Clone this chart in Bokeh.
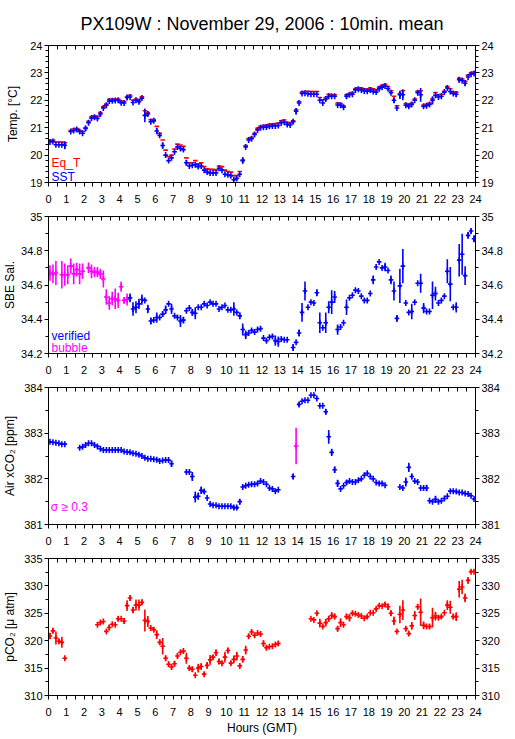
import numpy as np
from bokeh.plotting import figure
from bokeh.models import Range1d, LinearAxis, FixedTicker, Label, ColumnDataSource
from bokeh.layouts import column
from bokeh.embed import file_html
from bokeh.resources import INLINE

N = None
TITLE = "PX109W : November 29, 2006 : 10min. mean"
# centres of the 10-minute averaging bins (minutes of day)
BIN_CENTRE_MIN = list(range(5, 1440, 10))
HOUR_TICKS = list(range(0, 25))
HOUR_MINOR = [h + 0.5 for h in range(24)]

TEMP_TICKS = [19, 20, 21, 22, 23, 24]
TEMP_MINOR = [19.2, 19.4, 19.6, 19.8, 20.2, 20.4, 20.6, 20.8, 21.2, 21.4, 21.6, 21.8,
              22.2, 22.4, 22.6, 22.8, 23.2, 23.4, 23.6, 23.8]
SAL_TICKS = [34.2, 34.4, 34.6, 34.8, 35.0]
SAL_LABELS = {34.2: "34.2", 34.4: "34.4", 34.6: "34.6", 34.8: "34.8", 35.0: "35"}
SAL_MINOR = [34.3, 34.5, 34.7, 34.9]
XCO2_TICKS = [381, 382, 383, 384]
XCO2_MINOR = [381.5, 382.5, 383.5]
PCO2_TICKS = [310, 315, 320, 325, 330, 335]
PCO2_MINOR = [312.5, 317.5, 322.5, 327.5, 332.5]

# ---- Temperature (SST blue, Eq_T red) ----
SST = [
    20.48, 20.50, 20.38, 20.38, 20.38, 20.36, N, 20.86, 20.90, 20.93, 20.86, 20.80,
    20.97, 21.18, 21.35, 21.38, 21.34, 21.50, 21.72, 21.82, 21.97, 21.98, 21.99, 22.00,
    21.91, 21.90, 22.10, 22.12, 21.92, 22.00, 21.95, 22.08, 21.45, 21.50, 21.22, 21.25,
    20.88, 20.72, 20.35, 20.00, 19.80, 19.90, 20.12, 20.30, 20.24, 20.20, 19.72, 19.60,
    19.63, 19.65, 19.58, 19.60, 19.45, 19.38, 19.35, 19.35, 19.35, 19.52, 19.45, 19.30,
    19.28, 19.25, 19.10, 19.15, 19.30, 19.80, 20.30, 20.55, 20.60, 20.75, 20.92, 21.00,
    21.02, 21.03, 21.05, 21.06, 21.06, 21.08, 21.18, 21.20, 21.12, 21.10, 21.22, 21.60,
    21.90, 22.25, 22.26, 22.24, 22.22, 22.22, 22.22, 22.00, 21.90, 22.05, 22.15, 22.15,
    22.15, 21.83, 21.82, 21.75, 22.15, 22.20, 22.22, 22.38, 22.40, 22.38, 22.34, 22.33,
    22.38, 22.32, 22.30, 22.42, 22.48, 22.52, 22.42, 22.28, 22.00, 21.72, 22.20, 22.20,
    21.82, 21.78, 21.85, 22.00, 22.28, 22.20, 21.78, 21.80, 21.85, 22.00, 22.18, 22.12,
    22.15, 22.30, 22.45, 22.32, 22.25, 22.22, 22.75, 22.72, 22.62, 22.85, 22.95, 22.98,
]
EQT = [
    20.53, 20.55, 20.48, 20.48, 20.48, 20.45, N, 20.90, 20.95, 20.97, 20.90, 20.86,
    21.00, 21.23, 21.40, 21.43, 21.42, 21.55, 21.76, 21.86, 22.04, 22.04, 22.04, 22.05,
    21.97, 21.95, 22.12, 22.18, 22.00, 22.05, 22.02, 22.13, 21.62, 21.55, 21.30, 21.30,
    21.05, 20.80, 20.55, 20.18, 19.95, 20.00, 20.22, 20.40, 20.37, 20.32, 19.90, 19.72,
    19.72, 19.80, 19.68, 19.72, 19.58, 19.50, 19.48, 19.48, 19.46, 19.60, 19.58, 19.45,
    19.40, 19.38, 19.25, 19.25, 19.40, 19.82, 20.35, 20.60, 20.65, 20.80, 20.98, 21.05,
    21.08, 21.10, 21.12, 21.13, 21.15, 21.17, 21.25, 21.28, 21.20, 21.17, 21.25, 21.65,
    21.95, 22.30, 22.32, 22.33, 22.32, 22.32, 22.32, 22.10, 22.02, 22.10, 22.22, 22.20,
    22.20, 21.90, 21.88, 21.80, 22.20, 22.25, 22.28, 22.42, 22.46, 22.45, 22.42, 22.40,
    22.45, 22.42, 22.38, 22.48, 22.55, 22.58, 22.50, 22.35, 22.15, 21.80, 22.25, 22.35,
    21.88, 21.85, 21.90, 22.05, 22.33, 22.35, 21.83, 21.85, 21.90, 22.05, 22.28, 22.20,
    22.22, 22.33, 22.50, 22.42, 22.30, 22.30, 22.80, 22.78, 22.70, 22.92, 23.00, 23.03,
]
SST_ERR = {5: .15, 12: .1, 17: .08, 26: .08, 30: .07, 32: .25, 33: .06, 36: .12, 38: .12,
           46: .1, 65: .12, 82: .08, 83: .12, 93: .08, 100: .08, 116: .1, 118: .15, 119: .2,
           125: .25, 129: .15, 137: .1, 138: .1, 140: .1}

# ---- SBE salinity ----
SAL = [
    34.670, 34.665, 34.670, N, 34.660, 34.660, 34.660, 34.710, 34.665, 34.690, 34.665, 34.680,
    N, 34.700, 34.680, 34.675, 34.675, 34.665, 34.635, 34.530, 34.495, 34.520, 34.520, 34.510,
    34.590, 34.510, 34.515, 34.525, 34.460, 34.470, 34.490, 34.515, 34.510, 34.460, 34.390, 34.395,
    34.410, 34.410, 34.430, 34.455, 34.490, 34.460, 34.420, 34.410, 34.390, 34.395, 34.450, 34.465,
    34.440, 34.435, 34.470, 34.470, 34.490, 34.480, 34.500, 34.490, 34.490, 34.460, 34.470, 34.480,
    34.455, 34.455, 34.460, 34.440, 34.420, 34.340, 34.310, 34.320, 34.335, 34.325, 34.340, 34.345,
    34.290, 34.275, 34.295, 34.300, 34.275, 34.270, 34.285, 34.280, 34.280, N, 34.235, 34.265,
    34.320, 34.440, 34.565, 34.470, 34.500, 34.495, 34.555, 34.380, 34.350, 34.380, 34.470, 34.500,
    34.530, 34.340, 34.355, 34.380, 34.470, 34.525, 34.540, 34.570, 34.565, 34.535, 34.510, 34.510,
    34.550, 34.630, 34.705, 34.735, 34.700, 34.705, 34.685, 34.630, 34.565, 34.405, 34.595, 34.710,
    34.495, 34.440, 34.445, 34.500, 34.610, 34.610, 34.465, 34.445, 34.445, 34.540, 34.550, 34.495,
    34.510, 34.535, 34.680, 34.605, 34.470, 34.470, 34.745, 34.780, 34.655, 34.890, 34.915, 34.870,
]
SAL_ERR = {0: .045, 1: .055, 2: .07, 4: .08, 5: .065, 6: .055, 7: .045, 8: .06, 9: .04, 10: .06,
           11: .045, 13: .032, 14: .04, 15: .03, 16: .03, 17: .03, 18: .05, 19: .045, 20: .04,
           21: .04, 22: .06, 23: .045, 24: .03, 25: .02, 26: .035, 27: .025, 28: .04, 29: .035,
           30: .03, 31: .03, 33: .025, 34: .02, 36: .03, 38: .015, 39: .025, 41: .03, 44: .035,
           45: .02, 48: .02, 49: .035, 62: .04, 64: .02, 65: .035, 66: .025, 76: .03, 77: .03,
           82: .02, 84: .02, 85: .055, 86: .055, 90: .02, 91: .06, 93: .06, 94: .035, 95: .07,
           96: .035, 97: .03, 100: .045, 109: .025, 113: .025, 115: .025, 116: .055, 117: .02,
           118: .1, 119: .1, 122: .045, 125: .055, 126: .03, 129: .08, 130: .04, 134: .07,
           135: .1, 137: .03, 138: .095, 139: .12, 140: .055, 141: .02, 142: .015, 143: .02}
SAL_BUBBLE_BINS = list(range(0, 27))

# ---- Air xCO2 ----
XCO2 = [
    382.81, 382.80, 382.79, 382.78, 382.76, 382.76, N, N, N, N, 382.68, 382.70,
    382.74, 382.78, 382.78, 382.74, 382.71, 382.66, 382.63, 382.63, 382.63, 382.63, 382.63, 382.63,
    382.63, 382.60, 382.59, 382.58, 382.56, 382.55, 382.53, 382.50, 382.46, 382.44, 382.44, 382.43,
    382.42, 382.39, 382.40, 382.41, 382.41, 382.33, N, N, N, N, 382.15, 382.15,
    382.05, 381.60, 381.62, 381.75, 381.72, 381.58, 381.45, 381.42, 381.42, 381.40, 381.40, 381.40,
    381.40, 381.40, 381.37, 381.37, 381.50, 381.82, 381.85, 381.87, 381.88, 381.88, 381.90, 381.95,
    381.93, 381.88, 381.80, 381.78, 381.73, 381.76, N, N, N, N, 382.05, 382.72,
    383.63, 383.70, 383.72, 383.72, 383.83, 383.83, 383.76, 383.60, 383.60, 383.47, 382.92, 382.58,
    382.20, 381.90, 381.78, 381.85, 381.92, 381.95, 381.93, 381.93, 381.97, 382.00, 382.08, 382.12,
    382.05, 382.00, 381.92, 381.90, 381.90, 381.86, N, N, N, N, 381.82, 381.80,
    381.93, 382.25, 382.05, 381.95, 381.93, 381.80, 381.80, 381.80, 381.52, 381.50, 381.55, 381.50,
    381.52, 381.57, 381.62, 381.73, 381.73, 381.72, 381.70, 381.70, 381.68, 381.67, 381.63, 381.56,
]
XCO2_ERR = {41: .07, 48: .1, 49: .12, 50: .08, 51: .08, 52: .04, 62: .04, 63: .04, 64: .06,
            68: .03, 82: .06, 83: .4, 84: .05, 93: .06, 94: .15, 95: .08, 96: .07, 97: .08,
            100: .05, 120: .1, 121: .1, 122: .06, 127: .07, 130: .08}
XCO2_HIGH_SIGMA_BINS = [83]

# ---- pCO2 ----
PCO2 = [
    320.87, 321.80, 320.50, 319.90, 319.70, 316.80, N, N, N, N, N, N,
    N, N, N, N, 322.90, 323.30, 323.50, 321.70, 322.40, 323.00, 322.90, 324.00,
    324.00, 323.60, 326.40, 327.80, 325.60, 326.50, 326.50, 327.00, 323.70, 323.50, 322.30, 322.00,
    321.10, 319.70, 319.00, 316.80, 315.70, 315.20, 315.80, 317.20, 317.90, 318.10, 316.80, 315.00,
    314.80, 313.70, 315.00, 315.30, 313.90, 315.50, 316.50, 317.00, 317.80, 316.20, 315.90, 317.00,
    318.20, 315.90, 316.60, 317.20, 315.40, 316.60, 318.30, 320.80, 321.60, 321.00, 321.40, 321.20,
    319.50, 318.70, 318.90, 319.00, 319.30, 319.50, N, N, N, N, N, N,
    N, N, N, N, 324.00, 323.80, 325.00, 323.20, 322.60, 323.30, 324.00, 324.60,
    324.40, 322.20, 323.30, 322.90, 324.40, 324.20, 325.00, 324.90, 324.70, 324.50, 324.10, 324.40,
    325.10, 325.10, 325.80, 326.40, 326.30, 326.60, 326.20, 325.00, 323.60, 321.70, 324.80, 325.60,
    322.20, 321.30, 322.70, 324.60, 326.20, 325.20, 322.80, 322.60, 322.60, 324.20, 324.50, 324.20,
    324.40, 325.10, 326.50, 326.10, 324.40, 324.40, 329.40, 329.80, 327.80, 331.00, 332.60, 332.60,
]
PCO2_ERR = {0: .6, 1: .5, 2: 1.2, 3: .4, 4: 1.0, 5: .3, 20: .5, 23: .4, 25: .5, 26: 1.0, 27: .5,
            28: .6, 29: 1.0, 30: 1.0, 31: .5, 32: 2.0, 33: 1.0, 35: .4, 36: .8, 37: .5, 38: 1.5,
            39: .5, 40: .5, 41: .3, 42: .5, 43: .4, 45: .3, 46: 1.0, 47: .4, 48: .5, 50: .8,
            51: .6, 52: .4, 53: .6, 54: .9, 55: .4, 56: .6, 57: .5, 58: .3, 59: 1.0, 60: .5,
            61: .4, 62: .7, 63: .8, 64: .4, 65: .6, 66: .8, 67: .4, 68: .3, 69: .4, 72: .6,
            73: .4, 77: .4, 90: .3, 91: .8, 92: .3, 93: .7, 94: .5, 95: .6, 96: .5, 97: .5,
            98: .8, 100: .5, 101: .7, 102: .3, 107: .3, 110: .3, 113: .4, 114: .6, 115: .5,
            116: .8, 118: 1.6, 119: 1.8, 120: .4, 121: .3, 122: .7, 123: .8, 124: .5, 125: 2.5,
            126: .7, 128: .4, 129: 1.8, 130: .8, 132: .3, 134: .9, 135: 1.2, 136: .5, 137: .8,
            138: 1.5, 139: 1.3, 140: .8, 141: .6, 142: .3}

# ---------------- styling ----------------
FONT = "Liberation Sans"
RED, BLUE, MAGENTA = "#ff0000", "#0000ff", "#ff00ff"
FRAME_W, FRAME_H = 427, 137
LEFT, RIGHT = 44, 28
HALF_BIN_H = 5 / 60.0
STROKE = 1.6


def make_fig(yrange, yticks, yminor, ylabel, top, bottom, ylab_standoff,
             overrides=None, title=None, xlabel=None):
    kw = dict(frame_width=FRAME_W, frame_height=FRAME_H,
              x_range=Range1d(0, 24), y_range=Range1d(*yrange),
              output_backend="svg", toolbar_location=None,
              x_axis_location=None, y_axis_location=None,
              min_border_left=LEFT, min_border_right=RIGHT,
              min_border_top=top, min_border_bottom=bottom,
              background_fill_color="white", border_fill_color="white",
              outline_line_color=None)
    if title:
        kw["title"] = title
    p = figure(**kw)
    p.grid.visible = False
    if title:
        p.title.align = "center"
        p.title.text_font = FONT
        p.title.text_font_size = "18px"
        p.title.text_font_style = "normal"
        p.title.text_color = "black"
        p.title.standoff = 23

    xt = FixedTicker(ticks=HOUR_TICKS, minor_ticks=HOUR_MINOR)
    below = LinearAxis(ticker=xt, major_tick_in=0, major_tick_out=4,
                       minor_tick_in=0, minor_tick_out=4, major_label_standoff=8,
                       major_label_text_font=FONT, major_label_text_font_size="11px",
                       major_label_text_color="black", axis_line_color="black",
                       major_tick_line_color="black", minor_tick_line_color="black")
    if xlabel:
        below.axis_label = xlabel
        below.axis_label_text_font = FONT
        below.axis_label_text_font_size = "12px"
        below.axis_label_text_font_style = "normal"
        below.axis_label_text_color = "black"
        below.axis_label_standoff = 2
    p.add_layout(below, "below")
    # top axis: ticks only (labels switched off)
    above = LinearAxis(ticker=xt, major_tick_in=4, major_tick_out=0,
                       minor_tick_in=4, minor_tick_out=0, major_label_standoff=0,
                       major_label_text_font_size="1px", major_label_text_color=None,
                       major_label_text_alpha=0,
                       axis_line_color="black",
                       major_tick_line_color="black", minor_tick_line_color="black")
    p.add_layout(above, "above")

    yt = FixedTicker(ticks=yticks, minor_ticks=yminor)
    common = dict(ticker=yt, major_tick_in=0, major_tick_out=4, minor_tick_in=0,
                  minor_tick_out=3, major_label_standoff=2,
                  major_label_text_font=FONT, major_label_text_font_size="11px",
                  major_label_text_color="black", axis_line_color="black",
                  major_tick_line_color="black", minor_tick_line_color="black")
    if overrides:
        common["major_label_overrides"] = overrides
    left = LinearAxis(axis_label=ylabel, axis_label_text_font=FONT,
                      axis_label_text_font_size="12px", axis_label_text_font_style="normal",
                      axis_label_text_color="black", axis_label_standoff=ylab_standoff,
                      **common)
    p.add_layout(left, "left")
    right = LinearAxis(**common)
    p.add_layout(right, "right")
    return p


def draw(p, values, errs, colors, crosses=True):
    hx0, hx1, hy, hc = [], [], [], []
    vx, vy0, vy1, vc = [], [], [], []
    mx, my, mc = [], [], []
    for k, (m, v) in enumerate(zip(BIN_CENTRE_MIN, values)):
        if v is None:
            continue
        h = m / 60.0
        c = colors[k]
        hx0.append(h - HALF_BIN_H); hx1.append(h + HALF_BIN_H); hy.append(v); hc.append(c)
        if crosses:
            mx.append(h); my.append(v); mc.append(c)
            e = errs.get(k, 0)
            if e > 0:
                vx.append(h); vy0.append(v - e); vy1.append(v + e); vc.append(c)
    p.segment(x0="x0", x1="x1", y0="y", y1="y", line_color="c", line_width=STROKE,
              line_cap="square",
              source=ColumnDataSource(dict(x0=hx0, x1=hx1, y=hy, c=hc)))
    if crosses:
        p.scatter(x="x", y="y", marker="dash", angle=np.pi / 2, size=6, line_color="c",
                  line_width=STROKE, source=ColumnDataSource(dict(x=mx, y=my, c=mc)))
        if vx:
            p.segment(x0="x", x1="x", y0="y0", y1="y1", line_color="c", line_width=STROKE,
                      source=ColumnDataSource(dict(x=vx, y0=vy0, y1=vy1, c=vc)))


def note(p, x, y, text, color):
    p.add_layout(Label(x=x, y=y, text=text, text_color=color, text_font=FONT,
                       text_font_size="12px", text_baseline="alphabetic"))


nbin = len(BIN_CENTRE_MIN)

# Panel 1: temperature
p1 = make_fig((19, 24), TEMP_TICKS, TEMP_MINOR, "Temp. [°C]", 39, 27, 7, title=TITLE)
draw(p1, EQT, {}, [RED] * nbin, crosses=False)
draw(p1, SST, SST_ERR, [BLUE] * nbin)
note(p1, 0.17, 19.71, "Eq_T", RED)
note(p1, 0.17, 19.20, "SST", BLUE)

# Panel 2: salinity
p2 = make_fig((34.2, 35.0), SAL_TICKS, SAL_MINOR, "SBE Sal.", 7, 27, 1, overrides=SAL_LABELS)
sal_colors = [MAGENTA if k in SAL_BUBBLE_BINS else BLUE for k in range(nbin)]
draw(p2, SAL, SAL_ERR, sal_colors)
note(p2, 0.17, 34.303, "verified", BLUE)
note(p2, 0.17, 34.231, "bubble", MAGENTA)

# Panel 3: air xCO2
p3 = make_fig((381, 384), XCO2_TICKS, XCO2_MINOR, "Air xCO₂ [ppm]", 7, 27, 4)
x_colors = [MAGENTA if k in XCO2_HIGH_SIGMA_BINS else BLUE for k in range(nbin)]
draw(p3, XCO2, XCO2_ERR, x_colors)
note(p3, 0.12, 381.39, "σ ≥ 0.3", MAGENTA)

# Panel 4: pCO2
p4 = make_fig((310, 335), PCO2_TICKS, PCO2_MINOR, "pCO₂ [μ atm]", 7, 44, 4,
              xlabel="Hours (GMT)")
draw(p4, PCO2, PCO2_ERR, [RED] * nbin)

layout = column(p1, p2, p3, p4, spacing=0)
open("out.html", "w").write(file_html(layout, INLINE, title="PX109W"))
